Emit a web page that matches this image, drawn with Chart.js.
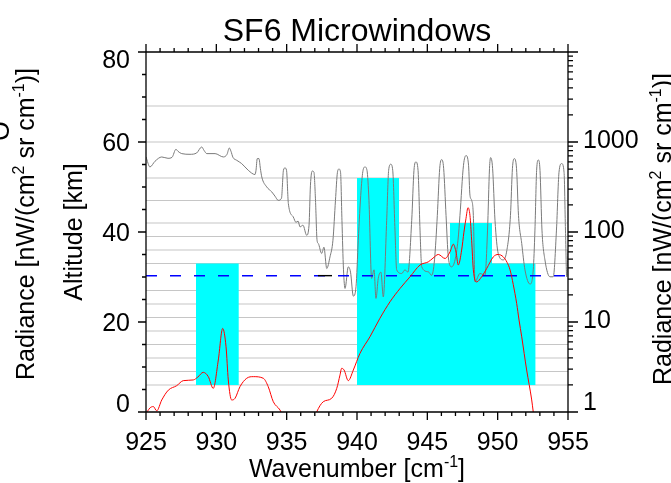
<!DOCTYPE html>
<html>
<head>
<meta charset="utf-8">
<script src="https://cdn.jsdelivr.net/npm/chart.js@4.4.1/dist/chart.umd.min.js"></script>
<style>
  html, body { margin: 0; padding: 0; background: #fff; }
</style>
</head>
<body>
<canvas id="sf6" width="671" height="483"></canvas>
<script>
// axis ticks
var waveTicks = [925, 930, 935, 940, 945, 950, 955];
var altTicks = [0, 20, 40, 60, 80];
var radTicks = [1, 10, 100, 1000];

// tangent altitudes [km]
var tangentAlts = [68, 60, 52, 47, 42, 39, 36, 33, 27, 24, 21, 18, 15, 12, 9, 6];

// microwindows: wavenumber range [cm-1] and altitude range [km]
var mwStart = [928.55, 940.0, 940.0, 946.6];
var mwEnd   = [931.6, 943.0, 952.7, 949.6];
var mwLow   = [6, 6, 6, 6];
var mwHigh  = [33, 52, 33, 42];

// threshold line [km]
var thresholdAlt = 30.3;

// high tangent spectrum, radiance [nW/(cm2 sr cm-1)]
var grayWave = [925.00, 925.28, 925.64, 926.12, 926.56, 926.85, 927.13, 927.27, 927.54, 928.13,
  928.60, 928.96, 929.12, 929.32, 929.91, 930.50, 930.76, 930.92, 931.04, 931.18,
  931.45, 931.80, 932.27, 932.75, 932.82, 932.91, 933.03, 933.13, 933.23, 933.58,
  933.94, 934.17, 934.40, 934.63, 934.77, 934.88, 934.99, 935.12, 935.47, 935.66,
  935.81, 935.95, 936.16, 936.42, 936.59, 936.69, 936.82, 936.94, 937.05, 937.16,
  937.25, 937.49, 937.65, 937.85, 938.08, 938.29, 938.47, 938.61, 938.72, 938.83,
  938.93, 939.04, 939.15, 939.38, 939.54, 939.74, 939.93, 940.09, 940.29, 940.43,
  940.57, 940.71, 940.85, 941.04, 941.21, 941.35, 941.51, 941.70, 941.87, 942.11,
  942.25, 942.40, 942.54, 942.70, 942.82, 943.18, 943.41, 943.62, 943.89, 944.05,
  944.19, 944.34, 944.48, 944.60, 945.07, 945.31, 945.51, 945.71, 945.88, 946.02,
  946.16, 946.33, 946.49, 946.73, 946.97, 947.18, 947.32, 947.57, 947.75, 947.93,
  948.03, 948.15, 948.27, 948.39, 948.74, 949.10, 949.28, 949.42, 949.50, 949.64,
  949.81, 950.04, 950.40, 950.63, 950.91, 951.05, 951.18, 951.34, 951.48, 951.71,
  951.94, 952.30, 952.53, 952.65, 952.77, 952.89, 953.01, 953.15, 953.36, 953.72,
  953.95, 954.18, 954.36, 954.55, 954.72, 954.82, 954.91, 955.00];
var grayRad = [682, 528, 611, 682, 659, 676, 830, 789, 743, 730,
  755, 880, 809, 743, 743, 682, 730, 858, 789, 676,
  626, 576, 485, 435, 485, 654, 654, 510, 409, 317,
  279, 250, 225, 237, 485, 515, 485, 207, 147, 128,
  132, 114, 119, 92, 119, 331, 476, 461, 225, 81,
  74.5, 57.7, 67.8, 39.3, 52.9, 81, 225, 461, 501, 461,
  135, 38, 23.6, 41, 35.8, 19.4, 24.6, 81, 291, 485,
  528, 485, 225, 30.5, 38, 18.3, 30.5, 35.8, 19.0, 135,
  485, 566, 485, 105, 38, 34.6, 38, 35.8, 135, 485,
  600, 485, 105, 41, 36.1, 33, 49, 153, 510, 638,
  510, 153, 52.9, 41, 49, 81, 153, 551, 707, 551,
  256, 225, 153, 27.9, 34.6, 33, 105, 510, 671, 510,
  135, 57.7, 49, 59.7, 153, 510, 654, 510, 153, 74.5,
  38, 26.4, 38, 105, 485, 631, 485, 105, 49, 31.8,
  31.8, 105, 461, 576, 461, 105, 31.8, 63];

// low tangent spectrum, radiance [nW/(cm2 sr cm-1)]
var redWave = [925.09, 925.28, 925.52, 925.76, 926.12, 926.59, 927.18, 927.65, 928.36, 928.69,
  929.07, 929.43, 929.78, 930.14, 930.45, 930.69, 930.85, 931.09, 931.33, 931.68,
  932.16, 932.63, 933.34, 933.69, 934.05, 934.53, 934.74, 935.24, 936.66, 937.13,
  937.60, 938.20, 938.56, 938.79, 938.91, 939.08, 939.38, 939.74, 940.21, 940.92,
  941.63, 942.35, 943.06, 943.77, 944.48, 945.07, 945.40, 945.78, 946.26, 946.61,
  946.85, 947.04, 947.20, 947.44, 947.60, 947.75, 947.89, 948.03, 948.15, 948.27,
  948.51, 948.86, 949.22, 949.69, 950.04, 950.40, 950.66, 950.88, 951.11, 951.35,
  951.52, 951.71, 952.06, 952.42, 952.53, 952.65];
var redRad = [1.01, 1.11, 1.15, 1.03, 1.36, 1.75, 1.96, 2.23, 2.27, 2.45,
  2.76, 2.47, 1.83, 3.78, 8.49, 5.31, 2.27, 1.36, 1.42, 1.91,
  2.37, 2.47, 2.37, 1.91, 1.30, 1.05, 0.9, 0.63, 0.63, 1.0,
  1.30, 1.42, 1.83, 2.57, 3.06, 2.93, 2.23, 2.93, 4.48, 6.85,
  11.0, 16.8, 23.6, 31.8, 43, 46.6, 51.2, 56.3, 50.8, 60.1,
  73.2, 59.7, 43, 63, 99.5, 142, 186, 153, 81, 38,
  27.9, 31.8, 39.3, 52.9, 56.3, 52.9, 46.2, 38, 26, 16.1,
  10.5, 6.85, 2.93, 1.36, 1.0, 0.72];

var FONT = '"Liberation Sans", Arial, Helvetica, sans-serif';

function toPoints(xs, ys) {
  return xs.map(function(x, i) { return {x: x, y: ys[i]}; });
}

var datasets = [];

tangentAlts.forEach(function(a) {
  datasets.push({
    data: [{x: waveTicks[0], y: a}, {x: waveTicks[waveTicks.length - 1], y: a}],
    yAxisID: 'y', borderColor: '#c6c6c6', borderWidth: 1.2,
    pointRadius: 0, fill: false, order: 6
  });
});

mwStart.forEach(function(x0, i) {
  datasets.push({
    data: [{x: x0, y: mwHigh[i]}, {x: mwEnd[i], y: mwHigh[i]}],
    yAxisID: 'y', borderWidth: 0, borderColor: 'rgba(0,0,0,0)',
    backgroundColor: '#00ffff', fill: {target: {value: mwLow[i]}},
    pointRadius: 0, order: 5
  });
});

datasets.push({
  data: toPoints(grayWave, grayRad), yAxisID: 'rad',
  borderColor: '#7a7a7a', borderWidth: 1, pointRadius: 0, fill: false,
  cubicInterpolationMode: 'monotone', order: 4
});

// blue dashed threshold, with one black dash showing through
datasets.push({
  data: [{x: waveTicks[0], y: thresholdAlt}, {x: waveTicks[waveTicks.length - 1], y: thresholdAlt}],
  yAxisID: 'y', borderColor: '#0000ff', borderWidth: 1.5, borderDash: [11, 13],
  pointRadius: 0, fill: false, order: 3
});
datasets.push({
  data: [{x: waveTicks[0], y: thresholdAlt}, {x: waveTicks[waveTicks.length - 1], y: thresholdAlt}],
  yAxisID: 'y', borderColor: '#000000', borderWidth: 1.4, borderDash: [14, 600],
  borderDashOffset: -172, pointRadius: 0, fill: false, order: 2
});

datasets.push({
  data: toPoints(redWave, redRad), yAxisID: 'rad',
  borderColor: '#ff0000', borderWidth: 1, pointRadius: 0, fill: false,
  cubicInterpolationMode: 'monotone', order: 1
});

// text with superscripts, centred on (x, y) baseline; optional -90 deg rotation
function richText(ctx, parts, x, y, size, rotate) {
  ctx.save();
  ctx.translate(x, y);
  if (rotate) ctx.rotate(-Math.PI / 2);
  var supSize = Math.round(size * 0.62);
  var widths = [], total = 0;
  parts.forEach(function(p) {
    ctx.font = (p.sup ? supSize : size) + 'px ' + FONT;
    var w = ctx.measureText(p.t).width;
    widths.push(w);
    total += w;
  });
  var cx = -total / 2;
  ctx.textAlign = 'left';
  ctx.textBaseline = 'alphabetic';
  ctx.fillStyle = '#000';
  parts.forEach(function(p, i) {
    ctx.font = (p.sup ? supSize : size) + 'px ' + FONT;
    ctx.fillText(p.t, cx, p.sup ? -size * 0.42 : 0);
    cx += widths[i];
  });
  ctx.restore();
}

var radianceTitle = [
  {t: 'Radiance [nW/(cm'}, {t: '2', sup: true}, {t: ' sr cm'}, {t: '-1', sup: true}, {t: ')]'}
];

var framePlugin = {
  id: 'frameAxes',
  afterDraw: function(chart) {
    var ctx = chart.ctx, a = chart.chartArea;
    var xs = chart.scales.x, ys = chart.scales.y, rs = chart.scales.rad;
    ctx.save();
    ctx.strokeStyle = '#000';
    ctx.lineWidth = 1.3;
    ctx.beginPath();
    ctx.rect(a.left, a.top, a.right - a.left, a.bottom - a.top);

    // wavenumber ticks, bottom and top
    for (var w = waveTicks[0]; w <= waveTicks[waveTicks.length - 1]; w++) {
      var px = xs.getPixelForValue(w);
      var len = waveTicks.indexOf(w) >= 0 ? 8 : 4;
      ctx.moveTo(px, a.bottom); ctx.lineTo(px, a.bottom + len);
      ctx.moveTo(px, a.top); ctx.lineTo(px, a.top - len);
    }
    // altitude ticks, left
    for (var h = altTicks[0]; h <= altTicks[altTicks.length - 1]; h += 5) {
      var py = ys.getPixelForValue(h);
      var l2 = altTicks.indexOf(h) >= 0 ? 8 : 4;
      ctx.moveTo(a.left, py); ctx.lineTo(a.left - l2, py);
    }
    // radiance ticks, right (log)
    for (var d = 1; d <= 10000; d *= 10) {
      var pd = rs.getPixelForValue(d);
      ctx.moveTo(a.right, pd); ctx.lineTo(a.right + 10, pd);
      if (d < 10000) {
        for (var m = 2; m <= 9; m++) {
          var pm = rs.getPixelForValue(m * d);
          ctx.moveTo(a.right, pm); ctx.lineTo(a.right + 5, pm);
        }
      }
    }
    ctx.stroke();

    ctx.fillStyle = '#000';
    ctx.font = '25px ' + FONT;
    ctx.textBaseline = 'alphabetic';

    ctx.textAlign = 'center';
    waveTicks.forEach(function(v) {
      ctx.fillText(String(v), xs.getPixelForValue(v), 450);
    });

    ctx.textAlign = 'right';
    altTicks.forEach(function(v, i) {
      var py = ys.getPixelForValue(v);
      var off = i === 0 ? 0 : (i === altTicks.length - 1 ? 16 : 9);
      ctx.fillText(String(v), 130, py + off);
    });

    ctx.textAlign = 'left';
    radTicks.forEach(function(v, i) {
      var py = rs.getPixelForValue(v);
      ctx.fillText(String(v), 583, py + (i === 0 ? -2 : 6));
    });

    // titles
    ctx.textAlign = 'center';
    ctx.font = '32px ' + FONT;
    ctx.fillText('SF6 Microwindows', (a.left + a.right) / 2, 41);

    richText(ctx, [{t: 'Wavenumber [cm'}, {t: '-1', sup: true}, {t: ']'}],
      (a.left + a.right) / 2, 477, 25, false);
    richText(ctx, [{t: 'Altitude [km]'}], 82, (a.top + a.bottom) / 2, 25, true);
    richText(ctx, radianceTitle, 34, 224, 25, true);
    richText(ctx, radianceTitle, 671, 229, 25, true);
    richText(ctx, [{t: 'O'}], 9, 131, 25, true);
    ctx.restore();
  }
};

new Chart(document.getElementById('sf6').getContext('2d'), {
  type: 'line',
  data: { datasets: datasets },
  options: {
    responsive: false,
    animation: false,
    events: [],
    layout: { padding: { left: 146, right: 103, top: 52, bottom: 71 } },
    plugins: {
      legend: { display: false },
      title: { display: false },
      tooltip: { enabled: false }
    },
    scales: {
      x: { type: 'linear', axis: 'x', position: 'bottom', min: 925, max: 955, display: false },
      y: { type: 'linear', axis: 'y', position: 'left', min: 0, max: 80, display: false },
      rad: { type: 'logarithmic', axis: 'y', position: 'right', min: 1, max: 10000, display: false }
    }
  },
  plugins: [framePlugin]
});
</script>
</body>
</html>
